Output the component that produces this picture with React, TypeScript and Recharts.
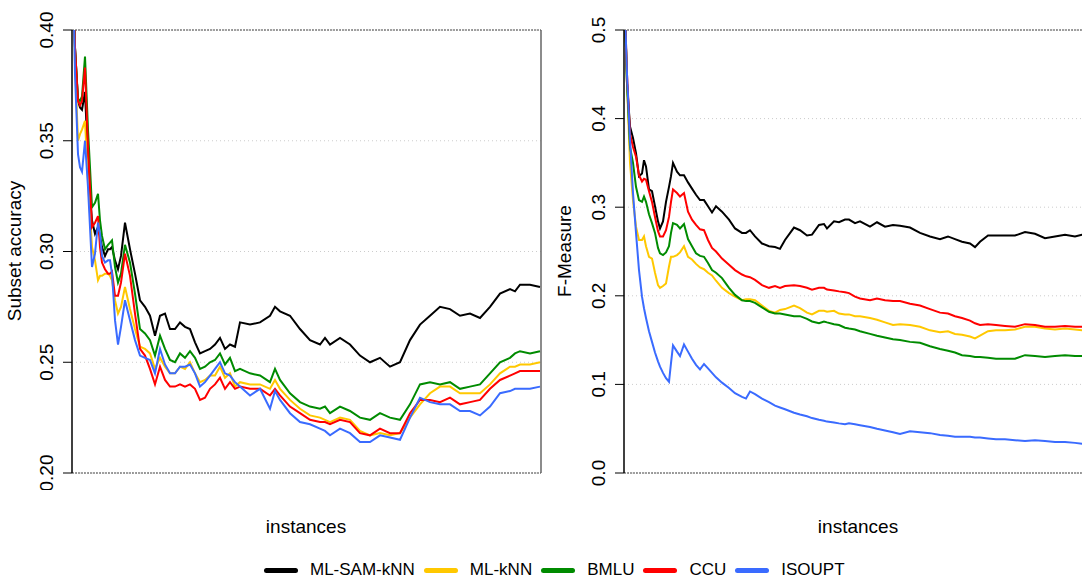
import { LineChart, Line, XAxis, YAxis, CartesianGrid, ReferenceLine } from 'recharts';

const FONT = '"Liberation Sans", Arial, Helvetica, sans-serif';

// left panel: subset accuracy, x = instance position along the stream
const subsetX = [
  1, 3, 6, 8, 10, 13, 16, 18, 20, 23, 26, 28, 30, 33, 36, 38, 40, 43, 46, 49,
  53, 58, 63, 68, 73, 78, 83, 88, 93, 98, 103, 108, 113, 118, 123, 128, 133, 138, 143, 148,
  153, 158, 163, 168, 178, 188, 198, 203, 208, 218, 228, 238, 248, 253, 258, 268, 278, 288, 298, 308,
  318, 328, 338, 348, 358, 368, 378, 388, 398, 408, 418, 428, 438, 443, 448, 458, 468,
];
const subsetSam = [
  0.43, 0.392, 0.368, 0.365, 0.364, 0.372, 0.341, 0.326, 0.314, 0.308,
  0.311, 0.307, 0.302, 0.298, 0.301, 0.301, 0.302, 0.296, 0.292, 0.298,
  0.313, 0.301, 0.29, 0.278, 0.275, 0.271, 0.262, 0.271, 0.272, 0.265,
  0.265, 0.268, 0.266, 0.265, 0.259, 0.254, 0.255, 0.256, 0.258, 0.261,
  0.256, 0.258, 0.257, 0.268, 0.267, 0.268, 0.271, 0.275, 0.273, 0.271,
  0.265, 0.26, 0.258, 0.261, 0.258, 0.261, 0.258, 0.253, 0.25, 0.252,
  0.248, 0.25, 0.26, 0.267, 0.271, 0.275, 0.274, 0.271, 0.272, 0.27,
  0.275, 0.281, 0.283, 0.282, 0.285, 0.285, 0.284,
];
const subsetMlknn = [
  0.43, 0.385, 0.35, 0.353, 0.355, 0.359, 0.332, 0.317, 0.302, 0.296,
  0.287, 0.289, 0.289, 0.29, 0.29, 0.289, 0.287, 0.278, 0.272, 0.275,
  0.284, 0.274, 0.265, 0.257, 0.256, 0.254, 0.247, 0.252, 0.248, 0.245,
  0.245, 0.248, 0.247, 0.25, 0.245, 0.241, 0.242, 0.244, 0.244, 0.248,
  0.243, 0.245, 0.239, 0.241, 0.24, 0.24, 0.238, 0.242, 0.238, 0.233,
  0.229, 0.226, 0.225, 0.224, 0.223, 0.225, 0.224, 0.219, 0.217, 0.218,
  0.217, 0.218, 0.225, 0.231, 0.236, 0.239, 0.239, 0.236, 0.236, 0.236,
  0.24, 0.245, 0.248, 0.248, 0.249, 0.249, 0.25,
];
const subsetBmlu = [
  0.43, 0.392, 0.369, 0.368, 0.37, 0.388, 0.355, 0.338, 0.32, 0.322,
  0.326, 0.314, 0.307, 0.301, 0.303, 0.304, 0.305, 0.293, 0.286, 0.29,
  0.303, 0.295, 0.281, 0.265, 0.263, 0.26, 0.253, 0.262, 0.256, 0.251,
  0.25, 0.254, 0.252, 0.255, 0.252, 0.247, 0.248, 0.25, 0.251, 0.254,
  0.249, 0.252, 0.246, 0.247, 0.245, 0.244, 0.241, 0.247, 0.242, 0.236,
  0.232, 0.23, 0.229, 0.23, 0.227, 0.23, 0.228, 0.225, 0.224, 0.227,
  0.225, 0.224, 0.231, 0.24, 0.241, 0.24, 0.241, 0.238, 0.239, 0.24,
  0.245, 0.25, 0.252, 0.254, 0.255, 0.254, 0.255,
];
const subsetCcu = [
  0.43, 0.392, 0.368, 0.366, 0.368, 0.383, 0.347, 0.329, 0.311, 0.313,
  0.316, 0.302, 0.295, 0.292, 0.29, 0.29, 0.291, 0.28, 0.28, 0.286,
  0.299, 0.289, 0.272, 0.256, 0.253, 0.247, 0.24, 0.248, 0.242, 0.239,
  0.239, 0.24, 0.239, 0.24, 0.238, 0.233, 0.234, 0.238, 0.24, 0.243,
  0.238, 0.241, 0.238, 0.239, 0.238, 0.238, 0.235, 0.238, 0.235, 0.23,
  0.227, 0.224, 0.223, 0.223, 0.222, 0.224, 0.223, 0.218, 0.217, 0.22,
  0.218, 0.218, 0.227, 0.233, 0.233, 0.232, 0.234, 0.231, 0.232, 0.233,
  0.238, 0.242, 0.244, 0.245, 0.246, 0.246, 0.246,
];
const subsetIsoupt = [
  0.43, 0.38, 0.344, 0.338, 0.336, 0.35, 0.329, 0.311, 0.293, 0.299,
  0.313, 0.308, 0.298, 0.295, 0.296, 0.296, 0.29, 0.269, 0.258, 0.266,
  0.278, 0.269, 0.26, 0.253, 0.252, 0.251, 0.245, 0.256, 0.249, 0.245,
  0.245, 0.248, 0.248, 0.249, 0.245, 0.239, 0.241, 0.244, 0.247, 0.25,
  0.245, 0.244, 0.241, 0.239, 0.235, 0.238, 0.229, 0.237, 0.233, 0.227,
  0.223, 0.222, 0.22, 0.219, 0.217, 0.22, 0.218, 0.214, 0.214, 0.217,
  0.216, 0.215, 0.225, 0.234, 0.232, 0.231, 0.231, 0.228, 0.228, 0.226,
  0.23, 0.236, 0.237, 0.238, 0.238, 0.238, 0.239,
];

// right panel: F-measure
const fmX = [
  1, 3, 6, 9, 12, 15, 18, 20, 22, 25, 28, 31, 34, 36, 39, 42, 45, 47, 49, 53,
  56, 60, 64, 68, 72, 76, 80, 84, 88, 92, 98, 105, 111, 118, 122, 126, 131, 138, 145, 151,
  156, 161, 170, 176, 183, 188, 195, 200, 203, 210, 215, 221, 225, 231, 236, 246, 253, 261, 269, 276,
  286, 296, 306, 316, 324, 331, 338, 346, 351, 356, 364, 372, 381, 391, 401, 411, 421, 431, 441, 451,
  458, 468,
];
const fmSam = [
  0.52, 0.44, 0.391, 0.378, 0.361, 0.335, 0.338, 0.353, 0.346, 0.32,
  0.318, 0.301, 0.284, 0.276, 0.284, 0.306, 0.323, 0.335, 0.35, 0.34,
  0.336, 0.336, 0.328, 0.321, 0.314, 0.308, 0.308, 0.301, 0.294, 0.301,
  0.295, 0.286, 0.276, 0.271, 0.271, 0.274, 0.267, 0.259, 0.256, 0.255,
  0.253, 0.263, 0.277, 0.274, 0.268, 0.269, 0.28, 0.281, 0.276, 0.284,
  0.283, 0.286, 0.286, 0.282, 0.284, 0.278, 0.283, 0.278, 0.28, 0.279,
  0.277, 0.271, 0.267, 0.264, 0.267, 0.264, 0.261, 0.259, 0.255, 0.261,
  0.268, 0.268, 0.268, 0.268, 0.272, 0.27, 0.265, 0.267, 0.269, 0.267,
  0.269, 0.268,
];
const fmMlknn = [
  0.52, 0.44, 0.35, 0.308, 0.278, 0.263, 0.263, 0.267, 0.256, 0.244,
  0.242, 0.226, 0.212, 0.209, 0.211, 0.214, 0.233, 0.244, 0.244, 0.246,
  0.249, 0.256, 0.244, 0.241, 0.236, 0.232, 0.23, 0.226, 0.223, 0.217,
  0.209, 0.203, 0.199, 0.195, 0.196, 0.196, 0.195, 0.189, 0.183, 0.181,
  0.184, 0.185, 0.189, 0.186, 0.181, 0.179, 0.183, 0.183, 0.182, 0.183,
  0.18, 0.179, 0.179, 0.177, 0.177, 0.175, 0.173, 0.17, 0.167, 0.168,
  0.167, 0.165, 0.161, 0.159, 0.16, 0.157, 0.156, 0.154, 0.152, 0.155,
  0.16, 0.161, 0.161, 0.162, 0.165, 0.165, 0.163, 0.162, 0.163, 0.162,
  0.161, 0.161,
];
const fmBmlu = [
  0.52, 0.44, 0.368, 0.35, 0.323, 0.308, 0.306, 0.312, 0.306, 0.292,
  0.282, 0.271, 0.254, 0.248, 0.246, 0.249, 0.256, 0.271, 0.282, 0.28,
  0.276, 0.281, 0.264, 0.256, 0.248, 0.245, 0.244, 0.237, 0.229, 0.226,
  0.22, 0.209, 0.201, 0.195, 0.194, 0.194, 0.192, 0.187, 0.182, 0.18,
  0.18, 0.179, 0.177, 0.177, 0.174, 0.171, 0.169, 0.171, 0.17, 0.168,
  0.167, 0.164, 0.163, 0.162, 0.16, 0.157, 0.155, 0.153, 0.151, 0.15,
  0.148, 0.147, 0.143, 0.14, 0.138, 0.136, 0.133, 0.132, 0.131, 0.131,
  0.13, 0.129, 0.129, 0.129, 0.133, 0.132, 0.131, 0.132, 0.133, 0.132,
  0.132, 0.132,
];
const fmCcu = [
  0.52, 0.45, 0.383, 0.368, 0.357, 0.336, 0.329, 0.332, 0.331, 0.318,
  0.306, 0.289, 0.273, 0.267, 0.267, 0.274, 0.289, 0.306, 0.32, 0.316,
  0.312, 0.316, 0.295, 0.286, 0.28, 0.275, 0.274, 0.263, 0.254, 0.25,
  0.242, 0.235, 0.229, 0.224, 0.222, 0.221, 0.218, 0.212, 0.209, 0.211,
  0.209, 0.211, 0.212, 0.211, 0.209, 0.207, 0.209, 0.209, 0.207, 0.206,
  0.205, 0.204, 0.203, 0.199, 0.197, 0.195, 0.197, 0.195, 0.194, 0.194,
  0.191, 0.189, 0.185, 0.181, 0.18, 0.177, 0.175, 0.172, 0.169, 0.167,
  0.168, 0.167, 0.166, 0.165, 0.168, 0.167, 0.165, 0.165, 0.166, 0.165,
  0.165, 0.165,
];
const fmIsoupt = [
  0.52, 0.45, 0.376, 0.316, 0.271, 0.229, 0.199, 0.186, 0.175, 0.16,
  0.148, 0.136, 0.126, 0.12, 0.113, 0.107, 0.103, 0.124, 0.144, 0.137,
  0.132, 0.145, 0.137, 0.129, 0.122, 0.117, 0.123, 0.118, 0.113, 0.108,
  0.102, 0.096, 0.09, 0.086, 0.084, 0.092, 0.089, 0.084, 0.08, 0.076,
  0.074, 0.072, 0.068, 0.066, 0.064, 0.062, 0.06, 0.059, 0.058, 0.057,
  0.056, 0.055, 0.056, 0.055, 0.054, 0.052, 0.05, 0.048, 0.046, 0.044,
  0.047, 0.046, 0.045, 0.043, 0.042, 0.041, 0.041, 0.041, 0.04, 0.04,
  0.039, 0.038, 0.038, 0.037, 0.036, 0.037, 0.036, 0.035, 0.035, 0.034,
  0.033, 0.033,
];

const subsetTicks = [0.2, 0.25, 0.3, 0.35, 0.4];
const fmTicks = [0, 0.1, 0.2, 0.3, 0.4, 0.5];

const series = [
  { key: 'sam', name: 'ML-SAM-kNN', color: '#000000' },
  { key: 'mlknn', name: 'ML-kNN', color: '#FFC800' },
  { key: 'bmlu', name: 'BMLU', color: '#008B00' },
  { key: 'ccu', name: 'CCU', color: '#FF0000' },
  { key: 'isoupt', name: 'ISOUPT', color: '#3A6BFF' },
];

const subsetRows = subsetX.map((x, i) => ({
  x,
  sam: subsetSam[i],
  mlknn: subsetMlknn[i],
  bmlu: subsetBmlu[i],
  ccu: subsetCcu[i],
  isoupt: subsetIsoupt[i],
}));

const fmRows = fmX.map((x, i) => ({
  x,
  sam: fmSam[i],
  mlknn: fmMlknn[i],
  bmlu: fmBmlu[i],
  ccu: fmCcu[i],
  isoupt: fmIsoupt[i],
}));

const AXIS_W = 72;
const X_MAX = 469;

function rotatedTick(digits: number) {
  return (props: any) => {
    const { y, payload } = props;
    const bx = AXIS_W - 19;
    return (
      <text
        x={bx}
        y={y}
        transform={`rotate(-90, ${bx}, ${y})`}
        textAnchor="middle"
        fontSize={19}
        fontFamily={FONT}
        fill="#000"
      >
        {Number(payload.value).toFixed(digits)}
      </text>
    );
  };
}

function Panel({ rows, domain, ticks, digits, rightBorder }: any) {
  return (
    <LineChart
      width={560}
      height={490}
      data={rows}
      margin={{ top: 30, right: 19, bottom: 17, left: 0 }}
    >
      <CartesianGrid vertical={false} stroke="#cccccc" strokeDasharray="1 3" />
      <XAxis dataKey="x" type="number" domain={[0, X_MAX]} hide allowDataOverflow />
      <YAxis
        width={AXIS_W}
        domain={domain}
        ticks={ticks}
        allowDataOverflow
        interval={0}
        tickSize={9}
        tickLine={{ stroke: '#000' }}
        axisLine={{ stroke: '#000', strokeWidth: 1.5 }}
        tick={rotatedTick(digits)}
      />
      <ReferenceLine y={domain[1]} stroke="#444" strokeDasharray="2 1" />
      <ReferenceLine y={domain[0]} stroke="#444" strokeDasharray="2 1" />
      {rightBorder && <ReferenceLine x={X_MAX} stroke="#666" strokeWidth={1.5} />}
      {series.map((s) => (
        <Line
          key={s.key}
          type="linear"
          dataKey={s.key}
          stroke={s.color}
          strokeWidth={2}
          dot={false}
          isAnimationActive={false}
        />
      ))}
    </LineChart>
  );
}

const textStyle = {
  position: 'absolute' as const,
  fontSize: 19,
  lineHeight: '19px',
  whiteSpace: 'nowrap' as const,
  color: '#000',
};

export default function App() {
  return (
    <div
      style={{
        position: 'fixed',
        left: 0,
        top: 0,
        width: 1082,
        height: 579,
        overflow: 'hidden',
        background: '#fff',
        fontFamily: FONT,
      }}
    >
      <div style={{ position: 'absolute', left: 0, top: 0 }}>
        <Panel rows={subsetRows} domain={[0.2, 0.4]} ticks={subsetTicks} digits={2} rightBorder />
      </div>
      <div style={{ position: 'absolute', left: 552, top: 0 }}>
        <Panel rows={fmRows} domain={[0, 0.5]} ticks={fmTicks} digits={1} rightBorder={false} />
      </div>

      <div style={{ ...textStyle, left: 14, top: 251, transform: 'translate(-50%, -50%) rotate(-90deg)' }}>
        Subset accuracy
      </div>
      <div style={{ ...textStyle, left: 564, top: 251, transform: 'translate(-50%, -50%) rotate(-90deg)' }}>
        F-Measure
      </div>
      <div style={{ ...textStyle, left: 306, top: 517, transform: 'translateX(-50%)' }}>instances</div>
      <div style={{ ...textStyle, left: 858, top: 517, transform: 'translateX(-50%)' }}>instances</div>

      <div
        style={{
          position: 'absolute',
          left: 264,
          top: 560,
          height: 20,
          display: 'flex',
          alignItems: 'center',
          fontSize: 17,
          lineHeight: '20px',
        }}
      >
        {series.map((s) => (
          <div key={s.key} style={{ display: 'flex', alignItems: 'center', marginRight: 9 }}>
            <span
              style={{
                display: 'inline-block',
                width: 34,
                height: 5,
                borderRadius: 3,
                background: s.color,
                marginRight: 12,
              }}
            />
            <span>{s.name}</span>
          </div>
        ))}
      </div>
    </div>
  );
}
